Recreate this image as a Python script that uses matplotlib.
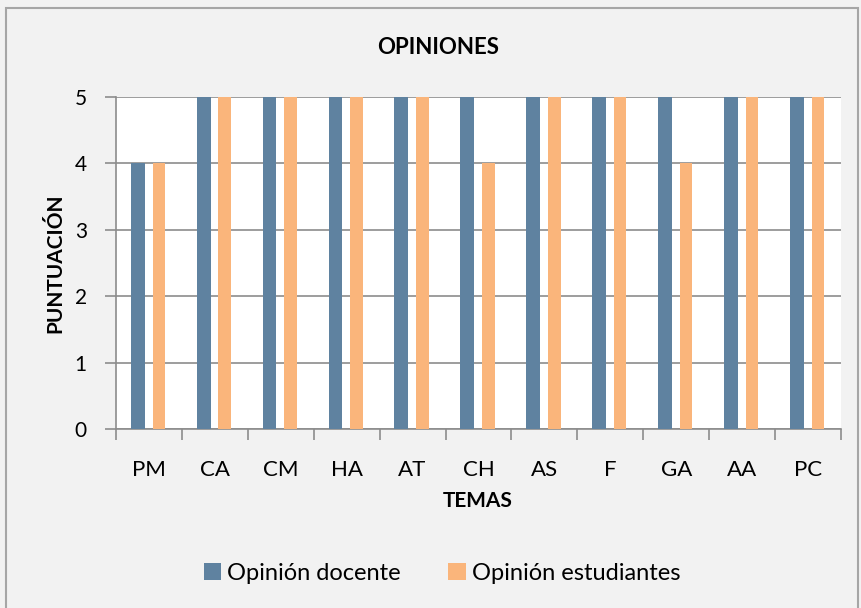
import matplotlib.pyplot as plt
import numpy as np
from matplotlib.patches import Rectangle

temas = ['PM', 'CA', 'CM', 'HA', 'AT', 'CH', 'AS', 'F', 'GA', 'AA', 'PC']
docente = [4, 5, 5, 5, 5, 5, 5, 5, 5, 5, 5]
estudiantes = [4, 5, 5, 5, 5, 4, 5, 5, 4, 5, 5]

plt.rcParams['font.family'] = ['Lato', 'DejaVu Sans']

fig = plt.figure(figsize=(8.61, 6.08), dpi=100, facecolor='#f2f2f2')
fig.patches.append(Rectangle((0.007, -0.01), 0.99, 0.997, transform=fig.transFigure,
                             fill=False, edgecolor='#a6a6a6', linewidth=1.5))
ax = fig.add_axes([0.1347, 0.2944, 0.8421, 0.5461])
ax.set_facecolor('white')

x = np.arange(len(temas))
ax.bar(x - 0.17, docente, width=0.21, color='#5f82a0', label='Opinión docente', zorder=3)
ax.bar(x + 0.15, estudiantes, width=0.19, color='#fab57b', label='Opinión estudiantes', zorder=3)

ax.set_xlim(-0.5, len(temas) - 0.5)
ax.set_ylim(0, 5)
ax.set_yticks(range(6))
ax.yaxis.grid(True, color='#8c8c8c', linewidth=1.2, zorder=0)
ax.set_xticks(x)
ax.set_xticklabels(temas, fontsize=16)
ax.set_xticks(np.arange(-0.5, len(temas), 1), minor=True)
ax.tick_params(axis='x', which='major', length=0, pad=22)
ax.tick_params(axis='x', which='minor', length=8, color='#8c8c8c', width=1.2)
ax.tick_params(axis='y', length=8, color='#8c8c8c', width=1.2, labelsize=15, pad=13)
for s in ['top', 'right']:
    ax.spines[s].set_visible(False)
for s in ['left', 'bottom']:
    ax.spines[s].set_color('#8c8c8c')
    ax.spines[s].set_linewidth(1.2)

fig.text(438 / 861, 1 - 47 / 608, 'OPINIONES', fontsize=16, fontweight='bold',
         ha='center', va='center')
fig.text(478 / 861, 1 - 501 / 608, 'TEMAS', fontsize=15, fontweight='bold',
         ha='center', va='center')
fig.text(55 / 861, 1 - 263 / 608, 'PUNTUACIÓN', fontsize=15, fontweight='bold',
         ha='center', va='center', rotation=90)

fig.legend(loc='center', bbox_to_anchor=(442 / 861, 1 - 573 / 608), ncol=2, frameon=False,
           fontsize=17, handlelength=0.75, handleheight=0.75, columnspacing=2.0,
           handletextpad=0.25)

fig.savefig('out.png', dpi=100, facecolor=fig.get_facecolor())
